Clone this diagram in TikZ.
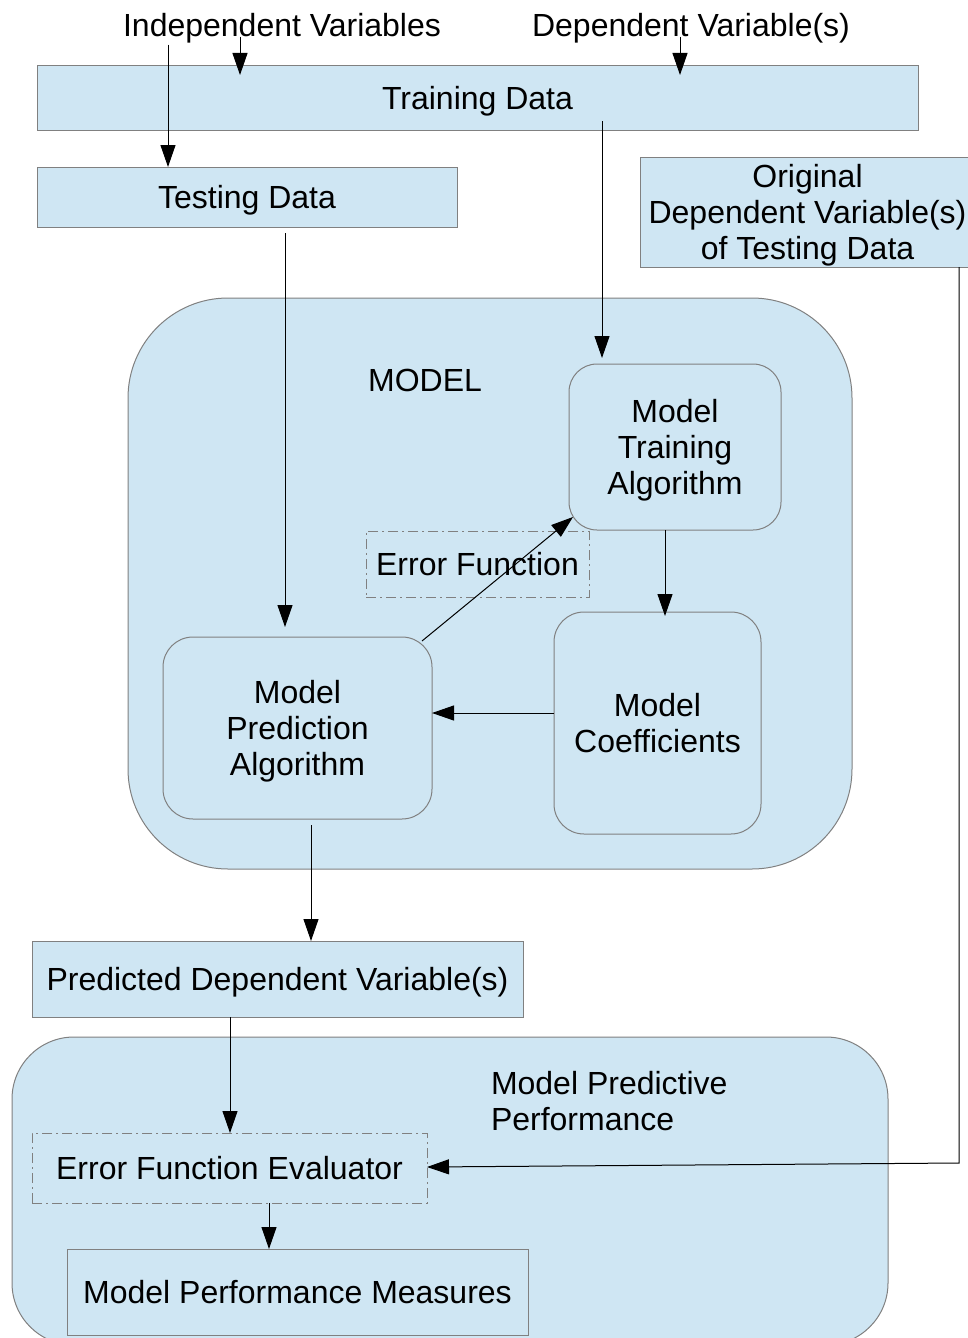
\documentclass[tikz,border=0pt]{standalone}
\usepackage{fontspec}
\setmainfont{Liberation Sans}
\usetikzlibrary{arrows.meta,calc}
\definecolor{boxfill}{RGB}{207,230,243}
\definecolor{boxline}{RGB}{128,128,128}
\begin{document}
\begin{tikzpicture}[x=1pt,y=-1pt,
 base/.style={inner sep=0pt, outer sep=0pt, font=\fontsize{32}{36}\selectfont, align=center, text depth=0pt},
 plainbox/.style={base, draw=boxline, fill=boxfill, line width=1pt},
 roundbox/.style={plainbox, rounded corners=30pt},
 dashbox/.style={base, draw=boxline, line width=1pt, dash pattern=on 10pt off 4pt on 2pt off 4pt},
 arr/.style={draw=black, line width=1pt, -{Triangle[length=22pt,width=15pt]}}
]
\useasboundingbox (0,0) rectangle (968,1338);
% containers
\node[roundbox, rounded corners=100pt, minimum width=724pt, minimum height=571pt] (model) at (490,583.5) {};
\node[roundbox, rounded corners=62pt, minimum width=876pt, minimum height=308pt] (perf) at (450,1191) {};
% boxes
\node[plainbox, minimum width=881pt, minimum height=64pt] (train) at (477.5,98) {Training Data};
\node[plainbox, minimum width=420pt, minimum height=60pt] (test) at (247,197) {Testing Data};
\node[plainbox, minimum width=335pt, minimum height=110pt] (orig) at (807.5,212) {Original\\Dependent Variable(s)\\of Testing Data};
\node[roundbox, rounded corners=28pt, minimum width=212pt, minimum height=166pt] (mta) at (675,447) {Model\\Training\\Algorithm};
\node[dashbox, minimum width=223pt, minimum height=66pt] (errf) at (477.5,564) {Error Function};
\node[roundbox, minimum width=269pt, minimum height=182pt] (mpa) at (297.5,728) {Model\\Prediction\\ Algorithm};
\node[roundbox, minimum width=207pt, minimum height=222pt] (coef) at (657.5,723) {Model\\Coefficients};
\node[plainbox, minimum width=491pt, minimum height=76pt] (pred) at (277.5,979) {Predicted Dependent Variable(s)};
\node[dashbox, minimum width=395pt, minimum height=70pt] (eval) at (229.5,1168) {Error Function Evaluator};
\node[plainbox, minimum width=461pt, minimum height=86pt] (meas) at (297.5,1292) {Model Performance Measures};
% labels
\node[base] (indep) at (282,25) {Independent Variables};
\node[base] (dep) at (691,25) {Dependent Variable(s)};
\node[base] (modellbl) at (425,380) {MODEL};
\node[base, align=left, anchor=west] (perflbl) at (491,1101) {Model Predictive\\Performance};
% helper coordinates
\coordinate (c168) at (168,0);
\coordinate (c230) at (230,0);
\coordinate (c240) at (240,0);
\coordinate (c269) at (269,0);
\coordinate (c285) at (285,0);
\coordinate (c311) at (311,0);
\coordinate (c602) at (602,0);
\coordinate (c665) at (665,0);
\coordinate (c680) at (680,0);
\coordinate (c959) at (959,0);
\coordinate (r713) at (0,713);
\coordinate (r1163) at (0,1163);
% connectors
\draw[arr] (indep.south -| c240) -- ($(train.north -| c240)+(0,9)$);
\draw[arr] ($(indep.south -| c168)+(0,8)$) -- (test.north -| c168);
\draw[arr] (dep.south -| c680) -- ($(train.north -| c680)+(0,9)$);
\draw[arr] ($(train.south -| c602)+(0,-9)$) -- ($(mta.north -| c602)+(0,-6)$);
\draw[arr] ($(test.south -| c285)+(0,6)$) -- ($(mpa.north -| c285)+(0,-10)$);
\draw[arr] (mta.south -| c665) -- ($(coef.north -| c665)+(0,4)$);
\draw[arr] (coef.west |- r713) -- (mpa.east |- r713);
\draw[arr] ($(mpa.north east)+(-10,4)$) -- ($(mta.south west)+(4,-13)$);
\draw[arr] ($(mpa.south -| c311)+(0,6)$) -- (pred.north -| c311);
\draw[arr] (pred.south -| c230) -- (eval.north -| c230);
\draw[arr] (orig.south -| c959) -- (c959 |- r1163) -- ($(eval.east)+(0,-1)$);
\draw[arr] (eval.south -| c269) -- (meas.north -| c269);
\end{tikzpicture}
\end{document}
